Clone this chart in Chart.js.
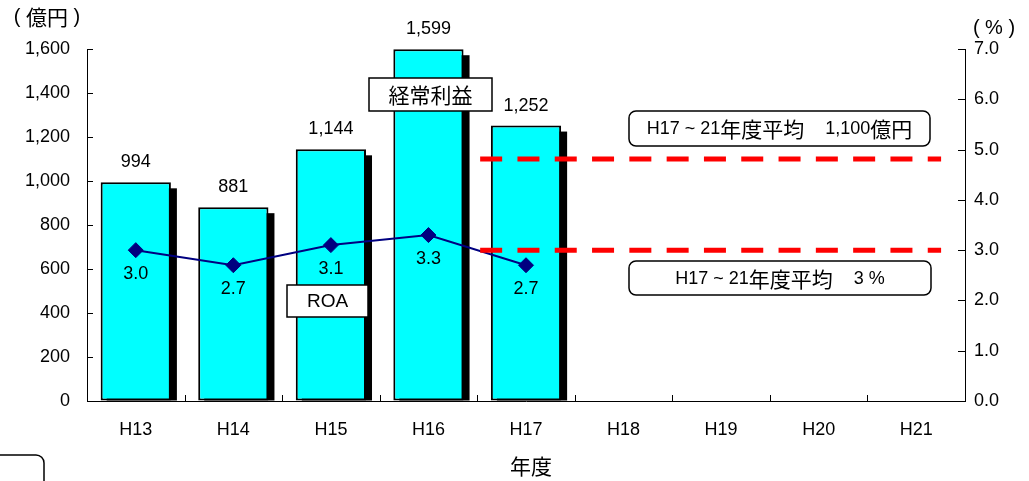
<!DOCTYPE html>
<html lang="ja">
<head>
<meta charset="utf-8">
<title>経常利益とROA</title>
<script src="https://cdn.jsdelivr.net/npm/chart.js@4.4.1/dist/chart.umd.min.js"></script>
<style>
  html, body { margin: 0; padding: 0; background: #fff; }
  #wrap { width: 1029px; height: 481px; position: relative; }
  canvas { display: block; }
</style>
</head>
<body>
<div id="wrap"><canvas id="chart" width="1029" height="481"></canvas></div>
<script>
// Fiscal years on the category axis
const years = ['H13', 'H14', 'H15', 'H16', 'H17', 'H18', 'H19', 'H20', 'H21'];
// Ordinary profit (億円), left axis
const ordinaryProfit = [994, 881, 1144, 1599, 1252, null, null, null, null];
// ROA (%), right axis
const roa = [3.0, 2.7, 3.1, 3.3, 2.7, null, null, null, null];
// Axis ranges and steps
const profitTicks = [0, 1600, 200];
const roaTicks = [0, 7, 1];
// Target averages for H17 to H21
const avgYears = ['H17', 'H21'];
const avgProfit = 1100;
const avgRoa = 3;
// Caption texts
const profitUnit = '( 億円 )';
const roaUnit = '( % )';
const xTitle = '年度';
const profitName = '経常利益';
const roaName = 'ROA';
const avgProfitText = 'H17 ~ 21年度平均　1,100億円';
const avgRoaText = 'H17 ~ 21年度平均　3 %';

const LATIN = "'Liberation Sans', Arial, sans-serif";
const CJK = "'Noto Sans CJK JP', sans-serif";
const isCJK = ch => /[\u3000-\u9fff\uff00-\uffef]/.test(ch);

// Draw a string whose CJK runs use a larger Japanese face than the Latin runs
function drawMixed(ctx, text, x, y, align, latinSize, cjkSize) {
  const runs = [];
  for (const ch of text) {
    const c = isCJK(ch);
    if (runs.length && runs[runs.length - 1].cjk === c) runs[runs.length - 1].t += ch;
    else runs.push({ t: ch, cjk: c });
  }
  let total = 0;
  for (const r of runs) {
    ctx.font = r.cjk ? `${cjkSize}px ${CJK}` : `${latinSize}px ${LATIN}`;
    r.w = ctx.measureText(r.t).width;
    total += r.w;
  }
  let cx = align === 'center' ? x - total / 2 : align === 'right' ? x - total : x;
  ctx.textAlign = 'left';
  ctx.textBaseline = 'middle';
  ctx.fillStyle = '#000';
  for (const r of runs) {
    ctx.font = r.cjk ? `${cjkSize}px ${CJK}` : `${latinSize}px ${LATIN}`;
    ctx.fillText(r.t, cx, y);
    cx += r.w;
  }
}

function roundRect(ctx, x, y, w, h, r) {
  ctx.beginPath();
  ctx.moveTo(x + r, y);
  ctx.lineTo(x + w - r, y);
  ctx.arcTo(x + w, y, x + w, y + r, r);
  ctx.lineTo(x + w, y + h - r);
  ctx.arcTo(x + w, y + h, x + w - r, y + h, r);
  ctx.lineTo(x + r, y + h);
  ctx.arcTo(x, y + h, x, y + h - r, r);
  ctx.lineTo(x, y + r);
  ctx.arcTo(x, y, x + r, y, r);
  ctx.closePath();
}

function labelBox(ctx, text, x, y, w, h, radius, latinSize, cjkSize) {
  ctx.save();
  if (radius > 0) roundRect(ctx, x, y, w, h, radius);
  else { ctx.beginPath(); ctx.rect(x, y, w, h); }
  ctx.fillStyle = '#fff';
  ctx.fill();
  ctx.lineWidth = 1.5;
  ctx.strokeStyle = '#000';
  ctx.stroke();
  if (text) drawMixed(ctx, text, x + w / 2, y + h / 2 + 1, 'center', latinSize, cjkSize);
  ctx.restore();
}

// Solid drop shadow behind each bar
const barShadow = {
  id: 'barShadow',
  beforeDatasetDraw(chart, args) {
    if (args.index !== 0) return;
    const ctx = chart.ctx;
    ctx.save();
    ctx.fillStyle = '#000';
    args.meta.data.forEach((bar, i) => {
      if (ordinaryProfit[i] == null) return;
      const { x, y, base, width } = bar.getProps(['x', 'y', 'base', 'width'], true);
      ctx.fillRect(x - width / 2 + 6, y + 6, width, base - y - 6);
    });
    ctx.restore();
  }
};

// Value labels, inner tick marks, target lines and captions
const overlay = {
  id: 'overlay',
  afterDatasetsDraw(chart) {
    const ctx = chart.ctx;
    const area = chart.chartArea;
    const xs = chart.scales.x, ys = chart.scales.y, y1 = chart.scales.y1;
    ctx.save();

    // inner tick marks
    ctx.strokeStyle = '#000';
    ctx.lineWidth = 1;
    ctx.beginPath();
    ys.ticks.forEach(t => {
      const py = Math.round(ys.getPixelForValue(t.value)) + 0.5;
      ctx.moveTo(area.left, py); ctx.lineTo(area.left + 6, py);
    });
    y1.ticks.forEach(t => {
      const py = Math.round(y1.getPixelForValue(t.value)) + 0.5;
      ctx.moveTo(area.right - 7, py); ctx.lineTo(area.right, py);
    });
    const catW = (area.right - area.left) / years.length;
    for (let i = 1; i < years.length; i++) {
      const px = Math.round(area.left + i * catW) + 0.5;
      ctx.moveTo(px, area.bottom); ctx.lineTo(px, area.bottom - 6);
    }
    ctx.stroke();

    // bar values
    const barMeta = chart.getDatasetMeta(0);
    barMeta.data.forEach((bar, i) => {
      const v = ordinaryProfit[i];
      if (v == null) return;
      drawMixed(ctx, v.toLocaleString('en-US'), bar.x, bar.y - 20, 'center', 18, 20);
    });
    // ROA values
    const lineMeta = chart.getDatasetMeta(1);
    lineMeta.data.forEach((pt, i) => {
      const v = roa[i];
      if (v == null) return;
      drawMixed(ctx, v.toFixed(1), pt.x, pt.y + 24, 'center', 18, 20);
    });

    // target average lines
    const i0 = years.indexOf(avgYears[0]), i1 = years.indexOf(avgYears[1]);
    const x0 = xs.getPixelForValue(i0) - catW * 0.47;
    const x1 = xs.getPixelForValue(i1) + catW * 0.255;
    ctx.strokeStyle = '#ff0000';
    ctx.lineWidth = 5;
    ctx.lineCap = 'butt';
    ctx.setLineDash([22, 15.3]);
    [ys.getPixelForValue(avgProfit), y1.getPixelForValue(avgRoa)].forEach(py => {
      ctx.beginPath();
      ctx.moveTo(x0, py); ctx.lineTo(x1, py);
      ctx.stroke();
    });
    ctx.setLineDash([]);

    // series captions and target captions
    labelBox(ctx, profitName, 369, 78, 123, 33, 0, 18, 21);
    labelBox(ctx, roaName, 287, 285, 81, 32, 0, 19, 21);
    labelBox(ctx, avgProfitText, 629, 111, 301, 35, 7, 18, 21);
    labelBox(ctx, avgRoaText, 629, 261, 302, 34, 7, 18, 21);
    labelBox(ctx, '', -30, 455, 74, 50, 8, 18, 21);

    // unit captions and axis title
    drawMixed(ctx, profitUnit, 47, 17, 'center', 20, 21);
    drawMixed(ctx, roaUnit, 994, 28, 'center', 20, 21);
    drawMixed(ctx, xTitle, (area.left + area.right) / 2 + 5, 466, 'center', 18, 21);
    ctx.restore();
  }
};

const tickFont = { family: LATIN, size: 18 };

new Chart(document.getElementById('chart'), {
  data: {
    labels: years,
    datasets: [
      {
        type: 'bar',
        label: profitName,
        data: ordinaryProfit,
        yAxisID: 'y',
        backgroundColor: '#00ffff',
        borderColor: '#000',
        borderWidth: 2,
        borderSkipped: false,
        categoryPercentage: 1,
        barPercentage: 0.72,
        order: 1
      },
      {
        type: 'line',
        label: roaName,
        data: roa,
        yAxisID: 'y1',
        borderColor: '#000080',
        borderWidth: 2,
        pointStyle: 'rectRot',
        pointRadius: 7.5,
        pointBackgroundColor: '#000080',
        pointBorderColor: '#000080',
        pointBorderWidth: 1,
        tension: 0,
        order: 0
      }
    ]
  },
  options: {
    responsive: false,
    devicePixelRatio: 1,
    animation: false,
    locale: 'en-US',
    layout: { padding: { top: 49, left: 0, right: 0, bottom: 0 } },
    plugins: { legend: { display: false }, tooltip: { enabled: false }, title: { display: false } },
    scales: {
      x: {
        type: 'category',
        offset: true,
        grid: { display: true, drawOnChartArea: false, drawTicks: false },
        border: { display: true, color: '#000', width: 1 },
        ticks: { color: '#000', font: tickFont, padding: 18, maxRotation: 0, autoSkip: false },
        afterFit(scale) { scale.height = 80; }
      },
      y: {
        position: 'left',
        min: profitTicks[0], max: profitTicks[1],
        grid: { display: true, drawOnChartArea: false, drawTicks: false },
        border: { display: true, color: '#000', width: 1 },
        ticks: {
          stepSize: profitTicks[2], color: '#000', font: tickFont, padding: 17,
          callback: v => v.toLocaleString('en-US')
        },
        afterFit(scale) { scale.width = 87; }
      },
      y1: {
        position: 'right',
        min: roaTicks[0], max: roaTicks[1],
        grid: { display: true, drawOnChartArea: false, drawTicks: false },
        border: { display: true, color: '#000', width: 1 },
        ticks: {
          stepSize: roaTicks[2], color: '#000', font: tickFont, padding: 9,
          callback: v => v.toFixed(1)
        },
        afterFit(scale) { scale.width = 64; }
      }
    }
  },
  plugins: [barShadow, overlay]
});
</script>
</body>
</html>
